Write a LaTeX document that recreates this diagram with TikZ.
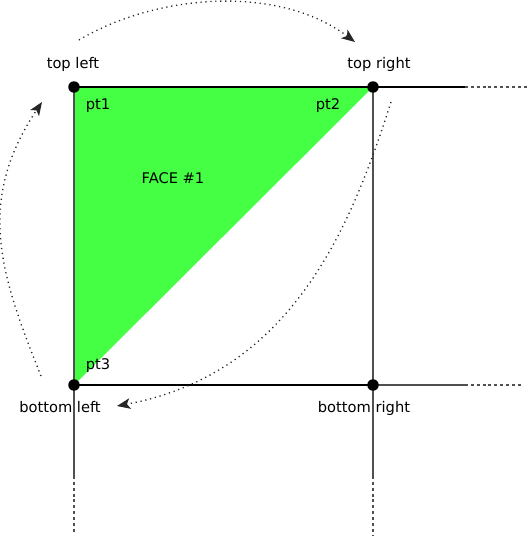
\documentclass[tikz,border=0pt]{standalone}
\usepackage{fontspec}
\setmainfont{DejaVu Sans}
\usetikzlibrary{arrows.meta}
\definecolor{facegreen}{HTML}{44FF44}
\definecolor{linegray}{HTML}{505050}
\begin{document}
\begin{tikzpicture}[x=0.75pt,y=-0.75pt,
  corner/.style={circle,fill=black,inner sep=0pt,minimum size=8.6pt},
  lbl/.style={anchor=base,inner sep=0pt,font=\fontsize{11pt}{13pt}\selectfont},
  hedge/.style={black,line width=1.4pt},
  vedge/.style={linegray,line width=2pt},
  ext/.style={linegray,line width=1.3pt},
  extdash/.style={linegray,line width=1.3pt,dash pattern=on 2.2pt off 2.2pt},
  motion/.style={black!85,line width=1pt,dash pattern=on 0.9pt off 2.8pt,
    -{Stealth[length=10pt,width=8pt,inset=2.5pt]}}]
\useasboundingbox (0,0) rectangle (528,540);
% corner positions
\coordinate (ptl) at (74,87);
\coordinate (ptr) at (373,87);
\coordinate (pbl) at (74,385);
\coordinate (pbr) at (373,385);
% extension ends
\coordinate (tex1) at (465,87);  \coordinate (tex2) at (528,87);
\coordinate (bex1) at (465,385); \coordinate (bex2) at (522,385);
\coordinate (lex1) at (74,476);  \coordinate (lex2) at (74,533);
\coordinate (rex1) at (373,476); \coordinate (rex2) at (373,535);
% face
\fill[facegreen] (ptl) -- (ptr) -- (pbl) -- cycle;
% extensions
\draw[hedge] (ptr) -- (tex1);
\draw[extdash] (tex1) -- (tex2);
\draw[ext] (pbr) -- (bex1);
\draw[extdash] (bex1) -- (bex2);
\draw[ext] (pbl) -- (lex1);
\draw[extdash] (lex1) -- (lex2);
\draw[ext] (pbr) -- (rex1);
\draw[extdash] (rex1) -- (rex2);
% square edges
\draw[hedge] (ptl) -- (ptr);
\draw[hedge] (pbl) -- (pbr);
\draw[vedge] (ptl) -- (pbl);
\draw[vedge] (ptr) -- (pbr);
% corner dots
\node[corner] (tl) at (ptl) {};
\node[corner] (tr) at (ptr) {};
\node[corner] (bl) at (pbl) {};
\node[corner] (br) at (pbr) {};
% labels
\node[lbl] (ltl) at (73,68) {top left};
\node[lbl] (ltr) at (379,68) {top right};
\node[lbl] (lbotl) at (60,412) {bottom left};
\node[lbl] (lbotr) at (364,412) {bottom right};
\node[lbl] (p1) at (98,109) {pt1};
\node[lbl] (p2) at (328,109) {pt2};
\node[lbl] (p3) at (98,369) {pt3};
\node[lbl] (face) at (173,183) {FACE \#1};
% motion arcs
\coordinate (a1s) at (79,40);  \coordinate (a1e) at (355,42);
\coordinate (a2s) at (41,376); \coordinate (a2e) at (42,102);
\coordinate (a3s) at (391,102);\coordinate (a3e) at (117,406);
\draw[motion] (a1s) .. controls (156,-6) and (278,-16) .. (a1e);
\draw[motion] (a2s) .. controls (1,276) and (-25,202) .. (a2e);
\draw[motion] (a3s) .. controls (351.4,225.6) and (292.6,373.4) .. (a3e);
\end{tikzpicture}
\end{document}
